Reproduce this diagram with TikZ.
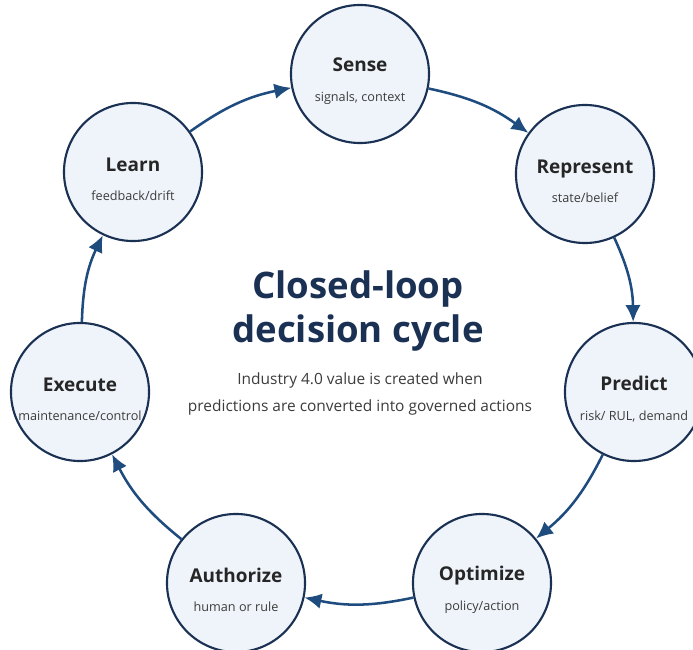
\documentclass[tikz,border=0pt]{standalone}
\usepackage{fontspec}
\setmainfont{Open Sans}
\usetikzlibrary{arrows.meta}

\definecolor{navy}{HTML}{1B3154}
\definecolor{ringblue}{HTML}{1F4C7E}
\definecolor{stagefill}{HTML}{EFF4FA}
\definecolor{subgray}{HTML}{3C3C3C}

% title and note of one stage circle (the strut drops the block a little)
\newcommand{\stagetext}[2]{{\fontsize{13.5}{16}\selectfont\rule{0pt}{20pt}\bfseries #1}\\[9pt]{\fontsize{9}{11}\selectfont\color{subgray}#2}}

\begin{document}
\begin{tikzpicture}[x=0.025cm,y=-0.025cm,
    stage/.style={circle,draw=navy,line width=1.5pt,fill=stagefill,
        minimum size=3.45cm,inner sep=0pt,align=center,text=black!85},
    loop/.style={-{Latex[length=12pt,width=11pt]},line width=1.8pt,ringblue,bend left=12}]
    \useasboundingbox (0,0) rectangle (693,650);
    \fill[white] (0,0) rectangle (693,650);

    % The seven stages around the loop
    \node[stage] (sense)     at (360,74)  {\stagetext{Sense}{signals, context}};
    \node[stage] (represent) at (585,174) {\stagetext{Represent}{state/belief}};
    \node[stage] (predict)   at (634,392) {\stagetext{Predict}{risk/ RUL, demand}};
    \node[stage] (optimize)  at (482,583) {\stagetext{Optimize}{policy/action}};
    \node[stage] (authorize) at (236,583) {\stagetext{Authorize}{human or rule}};
    \node[stage] (execute)   at (80,392)  {\stagetext{Execute}{maintenance/control}};
    \node[stage] (learn)     at (133,172) {\stagetext{Learn}{feedback/drift}};

    % Centre text
    \node[align=center,text=navy,font=\fontsize{26}{31}\selectfont\bfseries] (title) at (358,311)
        {Closed-loop\\decision cycle};
    \node[align=center,text=subgray,font=\fontsize{11}{19.5}\selectfont] (note) at (360,394)
        {Industry 4.0 value is created when\\predictions are converted into governed actions};

    % Arrows, clockwise
    \draw[loop] (sense) to (represent);
    \draw[loop] (represent) to (predict);
    \draw[loop] (predict) to (optimize);
    \draw[loop] (optimize) to (authorize);
    \draw[loop] (authorize) to (execute);
    \draw[loop] (execute) to (learn);
    \draw[loop] (learn) to (sense);
\end{tikzpicture}
\end{document}
